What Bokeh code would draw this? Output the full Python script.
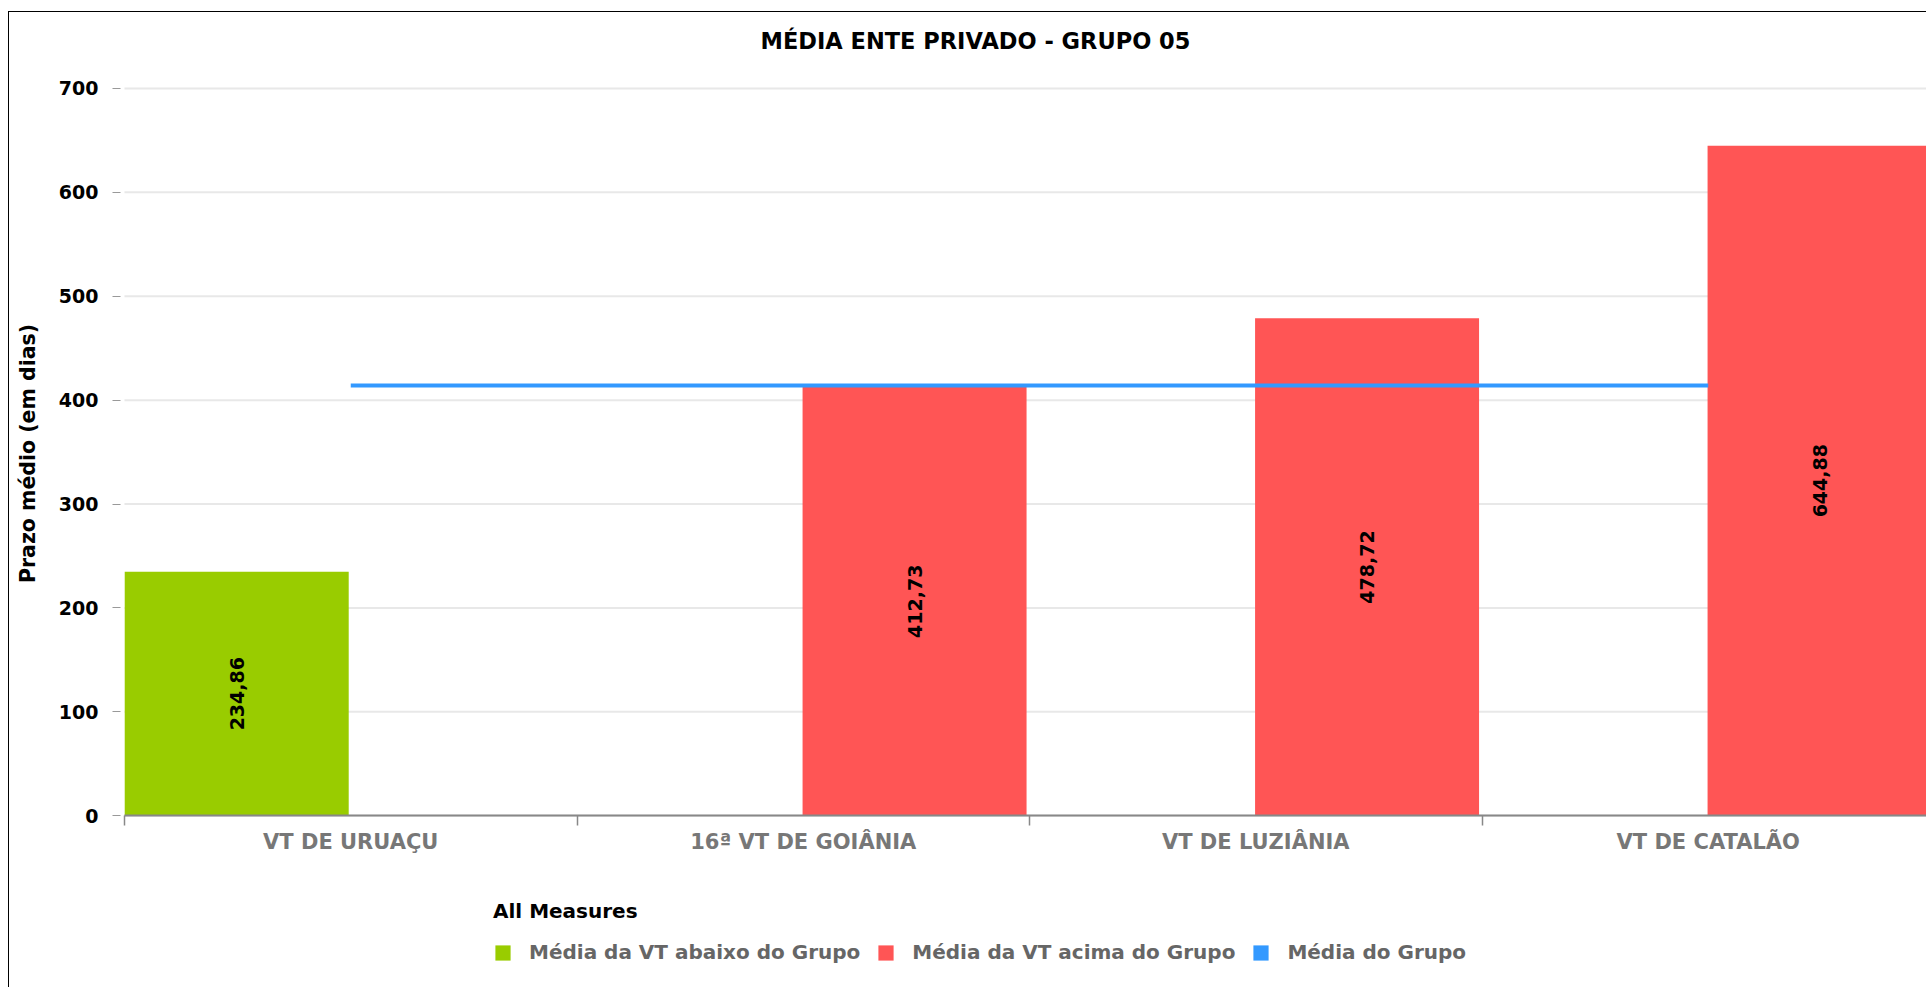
import math
from bokeh.plotting import figure
from bokeh.models import (Range1d, FixedTicker, ColumnDataSource, Legend, LegendItem,
                          Label)
from bokeh.core.properties import value
from bokeh.embed import file_html
from bokeh.resources import INLINE

# ---- data ----
categories = ["VT DE URUAÇU", "16ª VT DE GOIÂNIA", "VT DE LUZIÂNIA", "VT DE CATALÃO"]
below_group = [234.86, None, None, None]   # Média da VT abaixo do Grupo
above_group = [None, 412.73, 478.72, 644.88]  # Média da VT acima do Grupo
group_mean = [414.0, 414.0, 414.0, 414.0]  # Média do Grupo
y_ticks = [0, 100, 200, 300, 400, 500, 600, 700]

title_text = "MÉDIA ENTE PRIVADO - GRUPO 05"
y_label = "Prazo médio (em dias)"
legend_title = "All Measures"
series_names = ["Média da VT abaixo do Grupo", "Média da VT acima do Grupo", "Média do Grupo"]

# ---- style / layout constants ----
GREEN = "#99cc00"
RED = "#ff5555"
BLUE = "#3399ff"
FONT = "DejaVu Sans"

W, H = 1918, 976          # canvas size
TOP = 54                  # frame top (canvas px), below the title
X0_PX, Y0_PX = 115, 803   # canvas position of the data origin
PX_PER_CAT = 452.5
PX_PER_UNIT = 1.04

BAR_W = 0.495
OFF_BELOW = 0.248
OFF_ABOVE = 0.746


def fmt(v):
    return f"{v:.2f}".replace(".", ",")


def series_source(vals, off):
    xs, tops, mids, texts = [], [], [], []
    for i, v in enumerate(vals):
        if v is None:
            continue
        xs.append(i + off)
        tops.append(v)
        mids.append(v / 2)
        texts.append(fmt(v))
    return ColumnDataSource(dict(x=xs, top=tops, mid=mids, text=texts))


x_end = (W - X0_PX) / PX_PER_CAT
p = figure(width=W, height=H,
           x_range=Range1d(-X0_PX / PX_PER_CAT, x_end),
           y_range=Range1d(-(H - Y0_PX) / PX_PER_UNIT, (Y0_PX - TOP) / PX_PER_UNIT),
           output_backend="svg", toolbar_location=None,
           min_border_left=0, min_border_right=0,
           min_border_top=TOP, min_border_bottom=0)
p.styles = {"border-top": "1px solid black", "border-left": "1px solid black",
            "margin-top": "11px", "margin-left": "8px"}
p.outline_line_color = None
p.background_fill_color = "white"
p.border_fill_color = "white"

# title
p.title.text = title_text
p.title.align = "left"
p.title.offset = 751
p.title.text_font = FONT
p.title.text_font_size = "22.5px"
p.title.text_font_style = "bold"
p.title.text_color = "black"
p.title.standoff = 27

# grid (drawn as segments so they start at the category axis)
p.xgrid.visible = False
p.ygrid.visible = False
p.segment(x0=[0] * len(y_ticks), x1=[x_end] * len(y_ticks), y0=y_ticks, y1=y_ticks,
          line_color="#e8e8e8", line_width=2)

# y axis
ya = p.yaxis[0]
ya.fixed_location = 0
ya.ticker = FixedTicker(ticks=y_ticks)
ya.axis_line_color = None
ya.major_tick_in = -4
ya.major_tick_out = 12
ya.major_tick_line_color = "#999999"
ya.minor_tick_line_color = None
ya.major_label_text_font = FONT
ya.major_label_text_font_size = "19px"
ya.major_label_text_font_style = "bold"
ya.major_label_text_color = "black"
ya.major_label_standoff = 14

p.add_layout(Label(x=18, y=H - 441, x_units="screen", y_units="screen",
                   text=y_label, angle=math.pi / 2,
                   text_align="center", text_baseline="middle",
                   text_font=FONT, text_font_size="20.5px", text_font_style="bold",
                   text_color="black"))

# x axis
centers = [i + 0.5 for i in range(len(categories))]
bounds = [i for i in range(len(categories) + 1)]
xa = p.xaxis[0]
xa.fixed_location = 0
xa.bounds = (0, len(categories))
xa.ticker = FixedTicker(ticks=centers, minor_ticks=bounds)
xa.major_label_overrides = {c: name for c, name in zip(centers, categories)}
xa.major_tick_line_color = None
xa.major_tick_in = 0
xa.major_tick_out = 0
xa.minor_tick_in = 0
xa.minor_tick_out = 10
xa.minor_tick_line_color = "#888888"
xa.minor_tick_line_width = 1.5
xa.axis_line_color = "#888888"
xa.axis_line_width = 2
xa.major_label_standoff = 4
xa.major_label_text_font = FONT
xa.major_label_text_font_size = "21px"
xa.major_label_text_font_style = "bold"
xa.major_label_text_color = "#777777"

# bars
src_below = series_source(below_group, OFF_BELOW)
src_above = series_source(above_group, OFF_ABOVE)
r_below = p.vbar(x="x", top="top", bottom=0, width=BAR_W, source=src_below,
                 fill_color=GREEN, line_color=None)
r_above = p.vbar(x="x", top="top", bottom=0, width=BAR_W, source=src_above,
                 fill_color=RED, line_color=None)

# bar value labels
for src in (src_below, src_above):
    p.text(x="x", y="mid", text="text", source=src, angle=math.pi / 2,
           text_align="center", text_baseline="middle",
           text_font=value(FONT), text_font_size="19px", text_font_style="bold",
           text_color="black")

# group mean line
src_mean = ColumnDataSource(dict(x=centers, y=group_mean))
r_line = p.line(x="x", y="y", source=src_mean, line_color=BLUE, line_width=4)

# zero-size square glyphs on the mean points, used only as the legend swatch
r_proxy = p.vbar(x="x", top="y", bottom="y", width=0, source=src_mean,
                 fill_color=BLUE, line_color=None)

legend = Legend(items=[LegendItem(label=series_names[0], renderers=[r_below]),
                       LegendItem(label=series_names[1], renderers=[r_above]),
                       LegendItem(label=series_names[2], renderers=[r_proxy])],
                location=(484, 24), orientation="horizontal", title=legend_title)
legend.border_line_color = None
legend.background_fill_alpha = 0
legend.padding = 0
legend.margin = 0
legend.glyph_width = 19
legend.glyph_height = 19
legend.label_standoff = 17
legend.spacing = 16
legend.label_text_font = FONT
legend.label_text_font_size = "20px"
legend.label_text_font_style = "bold"
legend.label_text_color = "#666666"
legend.title_text_font = FONT
legend.title_text_font_size = "20px"
legend.title_text_font_style = "bold"
legend.title_text_color = "black"
legend.title_standoff = 17
p.add_layout(legend)

open("out.html", "w").write(file_html(p, INLINE))
